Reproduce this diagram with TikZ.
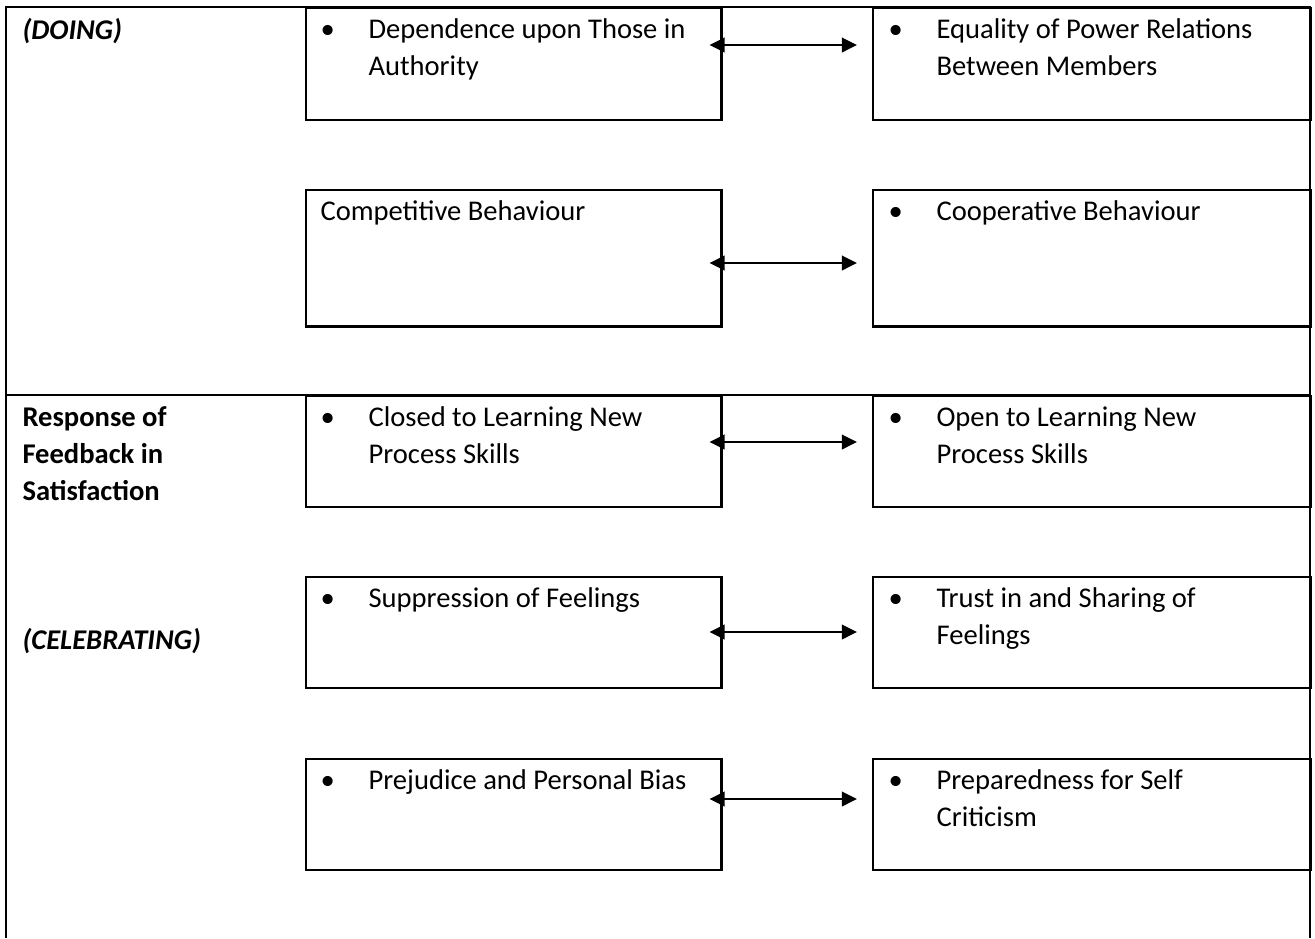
\documentclass[tikz,border=0pt]{standalone}
\usepackage{fontspec}
\setmainfont{Carlito}
\usepackage{tikz}
\usetikzlibrary{arrows.meta, positioning}

% stacked lines and bulleted entries
\newcommand{\rows}[1]{\begin{tabular}[t]{@{}l@{}}#1\end{tabular}}
\newcommand{\bul}[1]{\makebox[18.5pt][l]{\textbullet}\rows{#1}}

\begin{document}
\begin{tikzpicture}[x=0.385pt, y=-0.385pt,
        frame/.style={line width=1.1pt},
        lbox/.style={rectangle, draw, line width=0.95pt, anchor=north west, inner sep=0pt, minimum width=159.8pt},
        rbox/.style={lbox, minimum width=168.6pt},
        entry/.style={anchor=base west, inner sep=0pt, font=\fontsize{11pt}{14.25pt}\selectfont},
        tag/.style={entry, font=\fontsize{11pt}{14.25pt}\selectfont\bfseries},
        link/.style={{Triangle[length=5.8pt, width=5.6pt]}-{Triangle[length=5.8pt, width=5.6pt]}, line width=0.85pt}
    ]
        \useasboundingbox (0,0) rectangle (1315,938);

        % Table frame and row separator
        \draw[frame] (6,938) -- (6,7) -- (1310,7) -- (1310,938);
        \draw[frame] (6,395) -- (1310,395);

        % Row labels (left column)
        \node[tag, font=\fontsize{11pt}{14.25pt}\selectfont\bfseries\itshape] (doing) at (22,39) {(DOING)};
        \node[tag] (resp) at (22,426) {\rows{Response of\\Feedback in\\Satisfaction}};
        \node[tag, font=\fontsize{11pt}{14.25pt}\selectfont\bfseries\itshape] (celeb) at (22,649) {(CELEBRATING)};

        % Left boxes
        \node[lbox, minimum height=43.1pt] (a1) at (305,7) {};
        \node[lbox, minimum height=52.4pt] (a2) at (305,189) {};
        \node[lbox, minimum height=42.7pt] (a3) at (305,395) {};
        \node[lbox, minimum height=42.7pt] (a4) at (305,576) {};
        \node[lbox, minimum height=42.7pt] (a5) at (305,758) {};

        % Right boxes
        \node[rbox, minimum height=43.1pt] (b1) at (872,7) {};
        \node[rbox, minimum height=52.4pt] (b2) at (872,189) {};
        \node[rbox, minimum height=42.7pt] (b3) at (872,395) {};
        \node[rbox, minimum height=42.7pt] (b4) at (872,576) {};
        \node[rbox, minimum height=42.7pt] (b5) at (872,758) {};

        % Box texts
        \node[entry] (ta1) at ([shift={(15,31)}]a1.north west) {\bul{Dependence upon Those in\\Authority}};
        \node[entry] (ta2) at ([shift={(15,31)}]a2.north west) {Competitive Behaviour};
        \node[entry] (ta3) at ([shift={(15,31)}]a3.north west) {\bul{Closed to Learning New\\Process Skills}};
        \node[entry] (ta4) at ([shift={(15,31)}]a4.north west) {\bul{Suppression of Feelings}};
        \node[entry] (ta5) at ([shift={(15,31)}]a5.north west) {\bul{Prejudice and Personal Bias}};

        \node[entry] (tb1) at ([shift={(16,31)}]b1.north west) {\bul{Equality of Power Relations\\Between Members}};
        \node[entry] (tb2) at ([shift={(16,31)}]b2.north west) {\bul{Cooperative Behaviour}};
        \node[entry] (tb3) at ([shift={(16,31)}]b3.north west) {\bul{Open to Learning New\\Process Skills}};
        \node[entry] (tb4) at ([shift={(16,31)}]b4.north west) {\bul{Trust in and Sharing of\\Feelings}};
        \node[entry] (tb5) at ([shift={(16,31)}]b5.north west) {\bul{Preparedness for Self\\Criticism}};

        % Two-way arrows between the boxes
        \draw[link] ([xshift=-5pt]a1.east |- 0,45) -- ([xshift=-5.8pt]b1.west |- 0,45);
        \draw[link] ([xshift=-5pt]a2.east |- 0,263) -- ([xshift=-5.8pt]b2.west |- 0,263);
        \draw[link] ([xshift=-5pt]a3.east |- 0,442) -- ([xshift=-5.8pt]b3.west |- 0,442);
        \draw[link] ([xshift=-5pt]a4.east |- 0,632) -- ([xshift=-5.8pt]b4.west |- 0,632);
        \draw[link] ([xshift=-5pt]a5.east |- 0,799) -- ([xshift=-5.8pt]b5.west |- 0,799);

    \end{tikzpicture}
\end{document}
